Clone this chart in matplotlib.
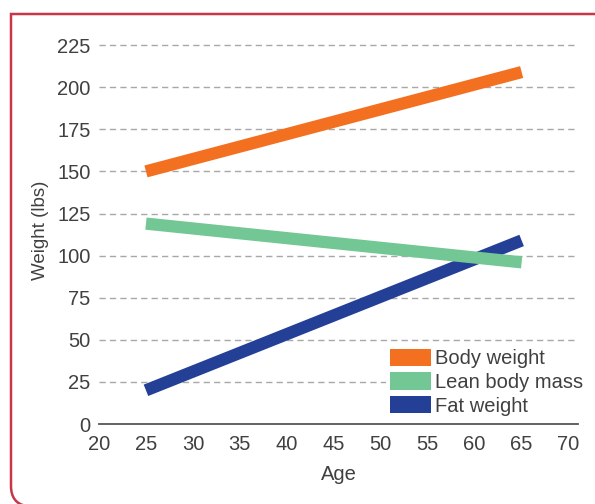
import matplotlib
matplotlib.use('Agg')
import matplotlib.pyplot as plt
from matplotlib.patches import Patch, PathPatch
from matplotlib.path import Path

plt.rcParams['font.family'] = ['Liberation Sans', 'DejaVu Sans']

ages = [25, 65]
body_weight = [150, 209]
lean_mass = [119, 96]
fat_weight = [20, 109]

series_labels = ['Body weight', 'Lean body mass', 'Fat weight']
series_colors = ['#f37021', '#72c795', '#233f96']

x_ticks = list(range(20, 75, 5))
y_ticks = list(range(0, 250, 25))

W, H = 595, 504
fig = plt.figure(figsize=(W / 100, H / 100), dpi=100)

# axes placed in pixel terms: x 20..71 spans px 99..578, y 0..230 spans px 424..37
left, right = 99, 578
bottom, top = H - 424, H - 36.7
ax = fig.add_axes([left / W, bottom / H, (right - left) / W, (top - bottom) / H])
ax.set_xlim(20, 71)
ax.set_ylim(0, 230)

for s in ['top', 'right', 'left']:
    ax.spines[s].set_visible(False)
ax.spines['bottom'].set_color('#555555')
ax.spines['bottom'].set_linewidth(1.3)

for y in y_ticks[1:]:
    ax.axhline(y, color='#a8a8a8', lw=1.0, ls=(0, (4.5, 3)), zorder=1)

lw = 8.8
ax.plot(ages, body_weight, color=series_colors[0], lw=lw, solid_capstyle='butt', zorder=3)
ax.plot(ages, fat_weight, color=series_colors[2], lw=lw, solid_capstyle='butt', zorder=3)
ax.plot(ages, lean_mass, color=series_colors[1], lw=lw, solid_capstyle='butt', zorder=4)

ax.set_xticks(x_ticks)
ax.set_yticks(y_ticks)
ax.tick_params(axis='both', length=0, labelsize=14.5, labelcolor='#404040')
ax.tick_params(axis='x', pad=8)
ax.tick_params(axis='y', pad=6)

ax.set_xlabel('Age', fontsize=14.5, color='#404040', labelpad=8)
ax.set_ylabel('Weight (lbs)', fontsize=13.5, color='#404040', labelpad=6)

handles = [Patch(facecolor=c, edgecolor='none', label=l) for c, l in zip(series_colors, series_labels)]
leg = ax.legend(handles=handles, loc='upper left', bbox_to_anchor=(0.6, 0.205),
                frameon=True, fancybox=False, facecolor='white', edgecolor='none',
                framealpha=1, fontsize=14.5, handlelength=2.0, handleheight=0.95,
                handletextpad=0.22, labelspacing=0.2, borderpad=0.2, borderaxespad=0,
                labelcolor='#404040')
leg.set_zorder(5)

# crimson frame, square at top-left, rounded at bottom-left
fx = lambda px: px / W
fy = lambda py: (H - py) / H
verts = [(fx(600), fy(14)), (fx(11), fy(14)), (fx(11), fy(486)),
         (fx(11), fy(503)), (fx(26), fy(506))]
codes = [Path.MOVETO, Path.LINETO, Path.LINETO, Path.CURVE3, Path.CURVE3]
frame = PathPatch(Path(verts, codes), transform=fig.transFigure, fill=False,
                  edgecolor='#c8364a', lw=1.8)
fig.patches.append(frame)

fig.savefig('out.png', dpi=100, facecolor='white')
